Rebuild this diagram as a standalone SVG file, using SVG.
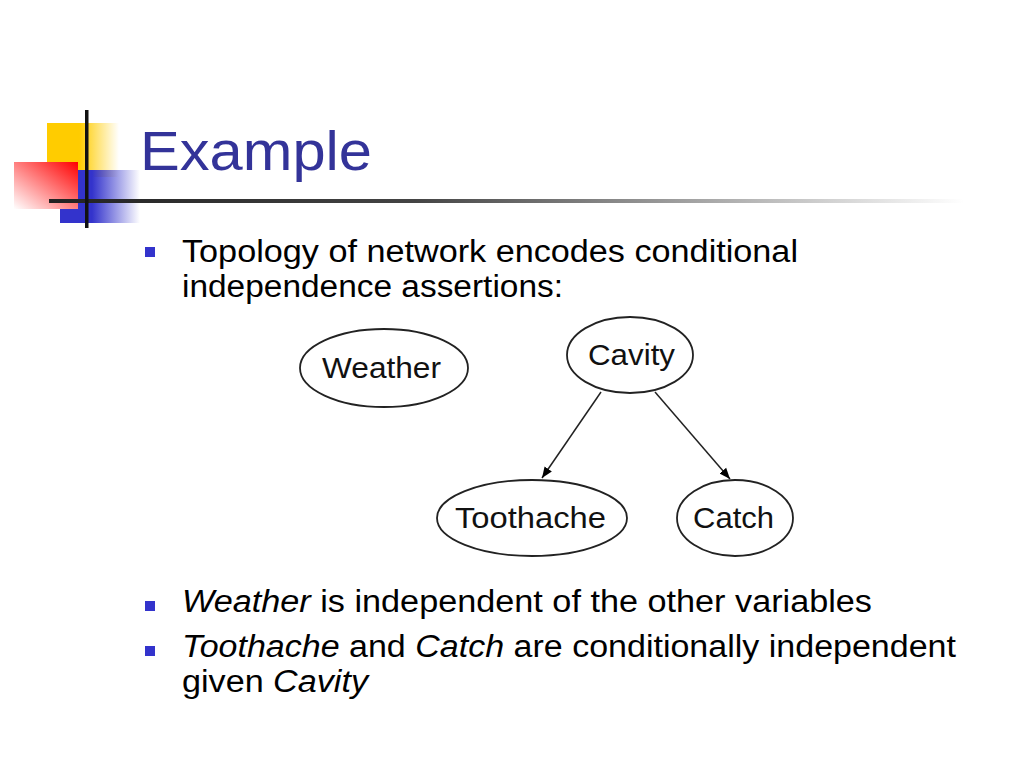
<svg xmlns="http://www.w3.org/2000/svg" width="1024" height="768" viewBox="0 0 1024 768">
<defs>
<linearGradient id="gy" x1="0" y1="0" x2="1" y2="0"><stop offset="0" stop-color="#ffcc00"/><stop offset="0.45" stop-color="#ffcc00"/><stop offset="1" stop-color="#ffcc00" stop-opacity="0"/></linearGradient>
<linearGradient id="gr" x1="1" y1="0" x2="0" y2="1"><stop offset="0" stop-color="#ff0000"/><stop offset="1" stop-color="#ffffff"/></linearGradient>
<linearGradient id="gb" x1="0" y1="0" x2="1" y2="0"><stop offset="0" stop-color="#3333cc"/><stop offset="0.4" stop-color="#3333cc"/><stop offset="1" stop-color="#3333cc" stop-opacity="0"/></linearGradient>
<linearGradient id="gl" x1="0" y1="0" x2="1" y2="0"><stop offset="0" stop-color="#222"/><stop offset="0.4" stop-color="#444"/><stop offset="1" stop-color="#444" stop-opacity="0"/></linearGradient>
<marker id="arr" viewBox="0 0 10 10" refX="10" refY="5" markerWidth="11" markerHeight="11" markerUnits="userSpaceOnUse" orient="auto"><path d="M0,1 L10,5 L0,9 z" fill="#000"/></marker>
<style>
.body{font-family:"Liberation Sans",Arial,sans-serif;font-size:31px;fill:#000}
.it{font-style:italic}
.node ellipse{fill:#fff;stroke:#222;stroke-width:1.8}
.node text{font-family:"Liberation Sans",Arial,sans-serif;font-size:30px;fill:#111;text-anchor:middle}
.bul{fill:#3333cc}
.edge{stroke:#222;stroke-width:1.5;fill:none;marker-end:url(#arr)}
</style>
</defs>
<rect width="1024" height="768" fill="#fff"/>
<g id="decor">
<rect x="47" y="123" width="72" height="54" fill="url(#gy)"/>
<rect x="60" y="170" width="80" height="53" fill="url(#gb)"/>
<rect x="14" y="162" width="64" height="47" fill="url(#gr)"/>
<rect x="49" y="199" width="915" height="4" fill="url(#gl)"/>
<rect x="85" y="110" width="3.5" height="118" fill="#111"/>
</g>
<text x="140" y="170" font-family="Liberation Sans,Arial,sans-serif" font-size="56" fill="#333399" textLength="232" lengthAdjust="spacingAndGlyphs">Example</text>
<g id="bullets">
<rect class="bul" x="145" y="247" width="10" height="10"/>
<rect class="bul" x="145" y="601" width="10" height="10"/>
<rect class="bul" x="145" y="646" width="10" height="10"/>
</g>
<text class="body" x="182" y="262" textLength="616" lengthAdjust="spacingAndGlyphs">Topology of network encodes conditional</text>
<text class="body" x="182" y="297" textLength="381" lengthAdjust="spacingAndGlyphs">independence assertions:</text>
<text class="body" x="182" y="612" textLength="690" lengthAdjust="spacingAndGlyphs"><tspan class="it">Weather</tspan> is independent of the other variables</text>
<text class="body" x="182" y="657" textLength="774" lengthAdjust="spacingAndGlyphs"><tspan class="it">Toothache</tspan> and <tspan class="it">Catch</tspan> are conditionally independent</text>
<text class="body" x="182" y="692" textLength="186" lengthAdjust="spacingAndGlyphs">given <tspan class="it">Cavity</tspan></text>
<g id="edges">
<line class="edge" x1="601" y1="392" x2="542" y2="478"/>
<line class="edge" x1="655" y1="392" x2="730" y2="479"/>
</g>
<g id="weather" class="node"><ellipse cx="384" cy="368" rx="84" ry="39"/><text x="381.5" y="378" textLength="119" lengthAdjust="spacingAndGlyphs">Weather</text></g>
<g id="cavity" class="node"><ellipse cx="630" cy="355" rx="63" ry="38"/><text x="631.5" y="365" textLength="87" lengthAdjust="spacingAndGlyphs">Cavity</text></g>
<g id="toothache" class="node"><ellipse cx="532" cy="518" rx="95" ry="38"/><text x="530.5" y="528" textLength="151" lengthAdjust="spacingAndGlyphs">Toothache</text></g>
<g id="catch" class="node"><ellipse cx="735" cy="518" rx="58" ry="38"/><text x="733.5" y="528" textLength="81" lengthAdjust="spacingAndGlyphs">Catch</text></g>
</svg>
